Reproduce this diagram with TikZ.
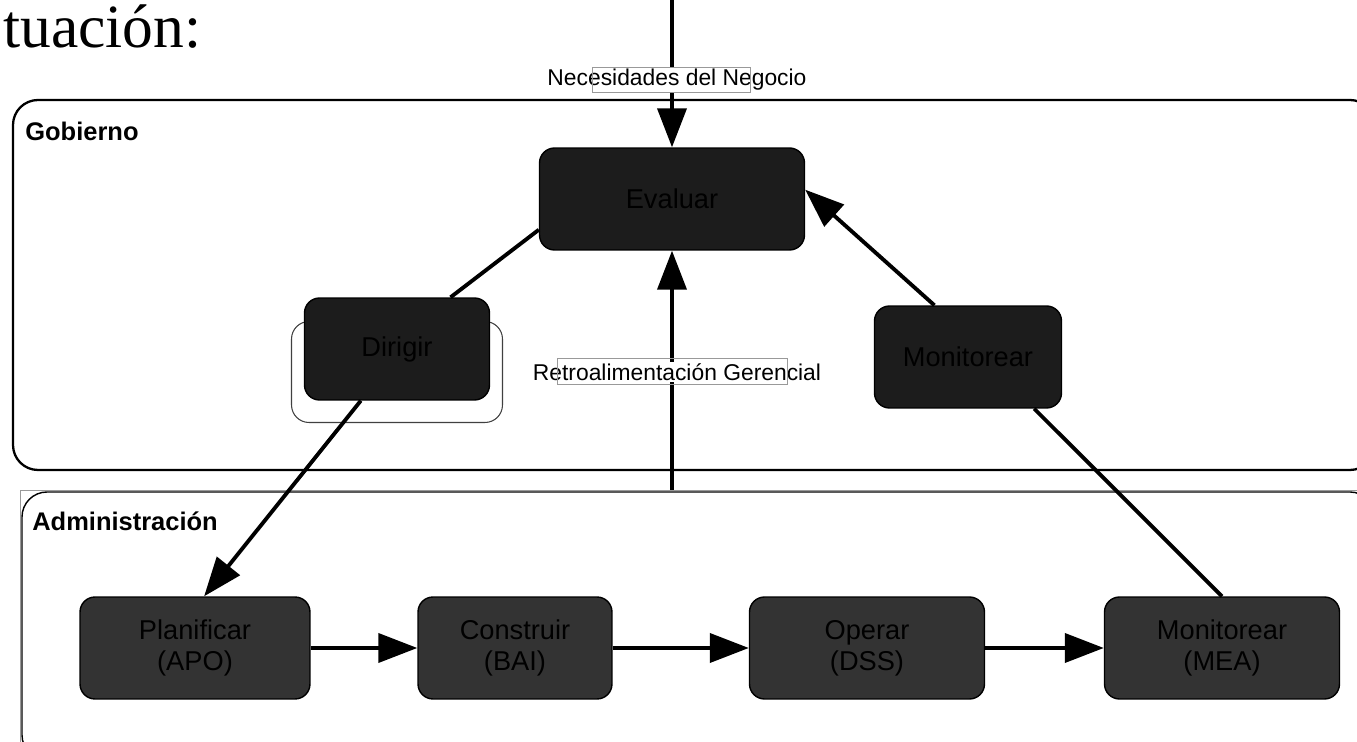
\documentclass[tikz,border=0pt]{standalone}
\usepackage{fontspec}
\setmainfont{Liberation Sans}
\newfontfamily\textoserif{Liberation Serif}
\usetikzlibrary{arrows.meta}

\definecolor{fondogob}{gray}{0.11}
\definecolor{fondoadm}{gray}{0.2}
\definecolor{marcogris}{gray}{0.6}

\tikzset{
	caja/.style={draw=black, line width=0.8pt, rounded corners=0.3cm, fill=fondogob,
		text=black, align=center, font=\fontsize{15.5}{17.5}\selectfont, minimum height=2.04cm},
	cajaabajo/.style={caja, fill=fondoadm},
	flecha/.style={line width=2.2pt, -{Triangle[length=0.78cm,width=0.58cm]}},
	linea/.style={line width=2.2pt},
	etiqueta/.style={fill=white, inner sep=1pt, font=\fontsize{13}{15}\selectfont},
	titulo/.style={anchor=west, inner sep=0pt, font=\bfseries\fontsize{14.5}{16}\selectfont},
}

\begin{document}
\begin{tikzpicture}[x=0.02cm,y=-0.02cm]

	\useasboundingbox (0,0) rectangle (1357,742);

	% Resto del texto de la pagina
	\node[anchor=base west, inner sep=0pt, font=\textoserif\fontsize{35}{40}\selectfont] (cont) at (3,48) {tuación:};

	% Marcos
	\draw[line width=1.3pt, rounded corners=0.5cm] (13,100) rectangle (1375,470);
	\draw[marcogris, line width=0.4pt] (20,490) rectangle (1375,760);
	\draw[line width=0.8pt, rounded corners=0.5cm] (22,492) rectangle (1375,760);
	\node[titulo] (gob) at (25,131) {Gobierno};
	\node[titulo] (adm) at (32,521) {Administración};

	% Cajas de Gobierno
	\node[draw=black!75, line width=0.6pt, rounded corners=0.35cm, minimum width=4.22cm, minimum height=2.02cm] (dirmarco) at (397,372) {};
	\node[caja, minimum width=5.3cm] (eval) at (672,199) {Evaluar};
	\node[caja, minimum width=3.7cm] (dir) at (397,349) {Dirigir};
	\node[caja, minimum width=3.74cm] (mon) at (968,357) {Monitorear};

	% Cajas de Administracion
	\node[cajaabajo, minimum width=4.6cm] (plan) at (195,648) {Planificar\\(APO)};
	\node[cajaabajo, minimum width=3.88cm] (cons) at (515,648) {Construir\\(BAI)};
	\node[cajaabajo, minimum width=4.7cm] (oper) at (867,648) {Operar\\(DSS)};
	\node[cajaabajo, minimum width=4.7cm] (mea) at (1222,648) {Monitorear\\(MEA)};

	% Entrada y retroalimentacion
	\coordinate (neg) at (672,0);
	\coordinate (retro) at (672,490);
	\draw[flecha] (neg) -- (eval.north);
	\draw[flecha] (retro) -- (eval.south);
	\node[etiqueta] (lneg) at (677,80) {Necesidades del Negocio};
	\draw[marcogris, line width=0.4pt] (592,67) rectangle (750,92);
	\node[etiqueta] (lretro) at (677,372) {Retroalimentación Gerencial};
	\draw[marcogris, line width=0.4pt] (557,358) rectangle (787,384);

	% Dirigir
	\draw[linea] (eval.193) -- (dir.44);
	\draw[flecha] (dir.235) -- (plan.80);

	% Monitorear
	\draw[linea] (mea.north) -- (mon.322);
	\draw[flecha] (mon.123) -- (eval.4);

	% Flujo de abajo
	\draw[flecha] (plan.east) -- (cons.west);
	\draw[flecha] (cons.east) -- (oper.west);
	\draw[flecha] (oper.east) -- (mea.west);

\end{tikzpicture}
\end{document}
